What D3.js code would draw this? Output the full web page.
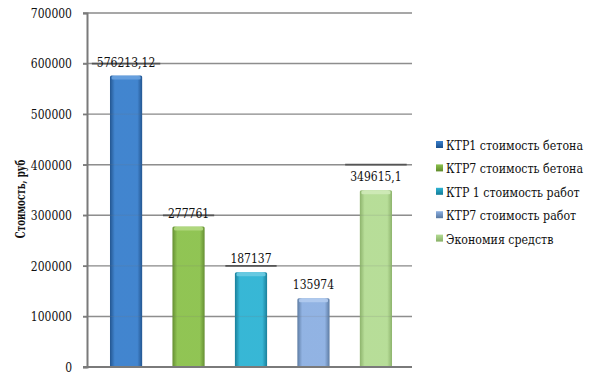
<!DOCTYPE html>
<html>
<head>
<meta charset="utf-8">
<script src="https://cdn.jsdelivr.net/npm/d3@7"></script>
<style>
  html, body { margin: 0; padding: 0; background: #fff; }
</style>
</head>
<body>
<svg id="chart" width="602" height="374"></svg>
<script>
// Series (one bar per series) and their values
const seriesNames = [
  "КТР1 стоимость бетона",
  "КТР7 стоимость бетона",
  "КТР 1 стоимость работ",
  "КТР7 стоимость работ",
  "Экономия средств"
];
const seriesValues = [576213.12, 277761, 187137, 135974, 349615.1];
const valueLabels = ["576213,12", "277761", "187137", "135974", "349615,1"];
const yTicks = [0, 100000, 200000, 300000, 400000, 500000, 600000, 700000];
const yTitle = "Стоимость, руб";

// Colour triplets per bar: dark edge, bright middle, top cap
const barColors = [
  ["#1a4f8c", "#3a80cd", "#6aa2df"],
  ["#5f8a2a", "#8cc24d", "#b2d982"],
  ["#107a96", "#2fb4d4", "#6dcbe2"],
  ["#56769f", "#8db0e2", "#b3cbee"],
  ["#88b066", "#b4dc94", "#cfeab8"]
];

const FONT = "DejaVu Serif";
// DejaVu Serif runs wide; squeeze text horizontally to a Times-like width
function condense(sel, k) {
  sel.each(function () {
    const n = this.getComputedTextLength();
    d3.select(this).attr("textLength", n * k).attr("lengthAdjust", "spacingAndGlyphs");
  });
}

const svg = d3.select("#chart");
const plot = { left: 87, right: 412, top: 13, bottom: 367 };

const y = d3.scaleLinear().domain([0, 700000]).range([plot.bottom, plot.top]);
const x = d3.scaleBand().domain(d3.range(seriesNames.length))
  .range([95, 407]).paddingInner(0.485).paddingOuter(0.24);

// Gradients
const defs = svg.append("defs");
barColors.forEach((c, i) => {
  const g = defs.append("linearGradient").attr("id", "bar" + i)
    .attr("x1", "0").attr("x2", "1").attr("y1", "0").attr("y2", "0");
  g.append("stop").attr("offset", "0").attr("stop-color", c[0]);
  g.append("stop").attr("offset", "0.15").attr("stop-color", c[1]);
  g.append("stop").attr("offset", "0.5").attr("stop-color", c[1]);
  g.append("stop").attr("offset", "0.85").attr("stop-color", c[1]);
  g.append("stop").attr("offset", "1").attr("stop-color", c[0]);
  const s = defs.append("linearGradient").attr("id", "leg" + i)
    .attr("x1", "0").attr("x2", "0").attr("y1", "0").attr("y2", "1");
  s.append("stop").attr("offset", "0").attr("stop-color", c[1]);
  s.append("stop").attr("offset", "1").attr("stop-color", c[0]);
});

// Gridlines (extend a little left of the axis as ticks)
svg.append("g")
  .selectAll("line").data(yTicks).join("line")
  .attr("x1", plot.left - 4).attr("x2", plot.right)
  .attr("y1", d => y(d)).attr("y2", d => y(d))
  .attr("stroke", "#8e8e8e").attr("stroke-width", 1.4);

// Bars
const bars = svg.append("g");
seriesValues.forEach((v, i) => {
  const bx = x(i), bw = x.bandwidth(), by = y(v), bh = y(0) - y(v);
  bars.append("rect")
    .attr("x", bx).attr("y", by).attr("width", bw).attr("height", bh)
    .attr("rx", 1.5)
    .attr("fill", `url(#bar${i})`).attr("opacity", 0.96);
  // bevelled top
  bars.append("rect")
    .attr("x", bx + 1.5).attr("y", by + 0.5).attr("width", bw - 3).attr("height", 3.5)
    .attr("rx", 1.5)
    .attr("fill", barColors[i][2]).attr("opacity", 0.9);
});

// Faint gridlines showing through the bars
svg.append("g")
  .selectAll("line").data(yTicks.filter(d => d > 0)).join("line")
  .attr("x1", plot.left).attr("x2", plot.right)
  .attr("y1", d => y(d)).attr("y2", d => y(d))
  .attr("stroke", "#8e8e8e").attr("stroke-width", 1).attr("opacity", 0.18);

// Axis
const axis = svg.append("g").attr("transform", `translate(${plot.left},0)`)
  .call(d3.axisLeft(y).tickValues(yTicks).tickSize(4).tickPadding(11).tickFormat(d3.format("d")))
  .attr("font-family", FONT);
axis.select(".domain").attr("stroke", "#7a7a7a").attr("stroke-width", 2);
axis.selectAll(".tick line").attr("stroke", "#7a7a7a").attr("stroke-width", 1.4);
axis.selectAll(".tick text").attr("font-size", 13.5).attr("fill", "#111").call(condense, 0.8);

// Baseline
svg.append("line")
  .attr("x1", plot.left - 4).attr("x2", plot.right)
  .attr("y1", y(0)).attr("y2", y(0))
  .attr("stroke", "#7a7a7a").attr("stroke-width", 2);

// Data labels, with the darker gridline piece beneath each label box
const labels = svg.append("g").attr("font-family", FONT);
seriesValues.forEach((v, i) => {
  const cx = x(i) + x.bandwidth() / 2;
  const base = y(v) - 9;
  const t = labels.append("text")
    .attr("x", cx).attr("y", base)
    .attr("text-anchor", "middle")
    .attr("font-size", 13.5).attr("fill", "#111")
    .text(valueLabels[i])
    .call(condense, 0.8);
  const w = +t.attr("textLength");
  yTicks.forEach(tk => {
    const gy = y(tk);
    if (gy > base - 18 && gy < base + 6) {
      labels.insert("line", "text")
        .attr("x1", cx - w / 2 - 5).attr("x2", Math.min(cx + w / 2 + 5, plot.right + 2))
        .attr("y1", gy).attr("y2", gy)
        .attr("stroke", "#555").attr("stroke-width", 1.8);
    }
  });
});

// Y title
svg.append("text")
  .attr("transform", `translate(25,${(plot.top + plot.bottom) / 2 + 9}) rotate(-90)`)
  .attr("text-anchor", "middle")
  .attr("font-family", FONT)
  .attr("font-size", 12.5).attr("font-weight", "bold").attr("fill", "#111")
  .text(yTitle)
  .call(condense, 0.7);

// Legend (text squeezed through a horizontal scale)
const legend = svg.append("g").attr("transform", "translate(436,145)").attr("font-family", FONT);
seriesNames.forEach((name, i) => {
  const row = legend.append("g").attr("transform", `translate(0,${i * 23.4})`);
  row.append("rect").attr("x", 0).attr("y", -4).attr("width", 7).attr("height", 7)
    .attr("fill", `url(#leg${i})`);
  row.append("g").attr("transform", "translate(10,5) scale(0.8,1)")
    .append("text").attr("x", 0).attr("y", 0)
    .attr("font-size", 13.8).attr("fill", "#111").text(name);
});
</script>
</body>
</html>
